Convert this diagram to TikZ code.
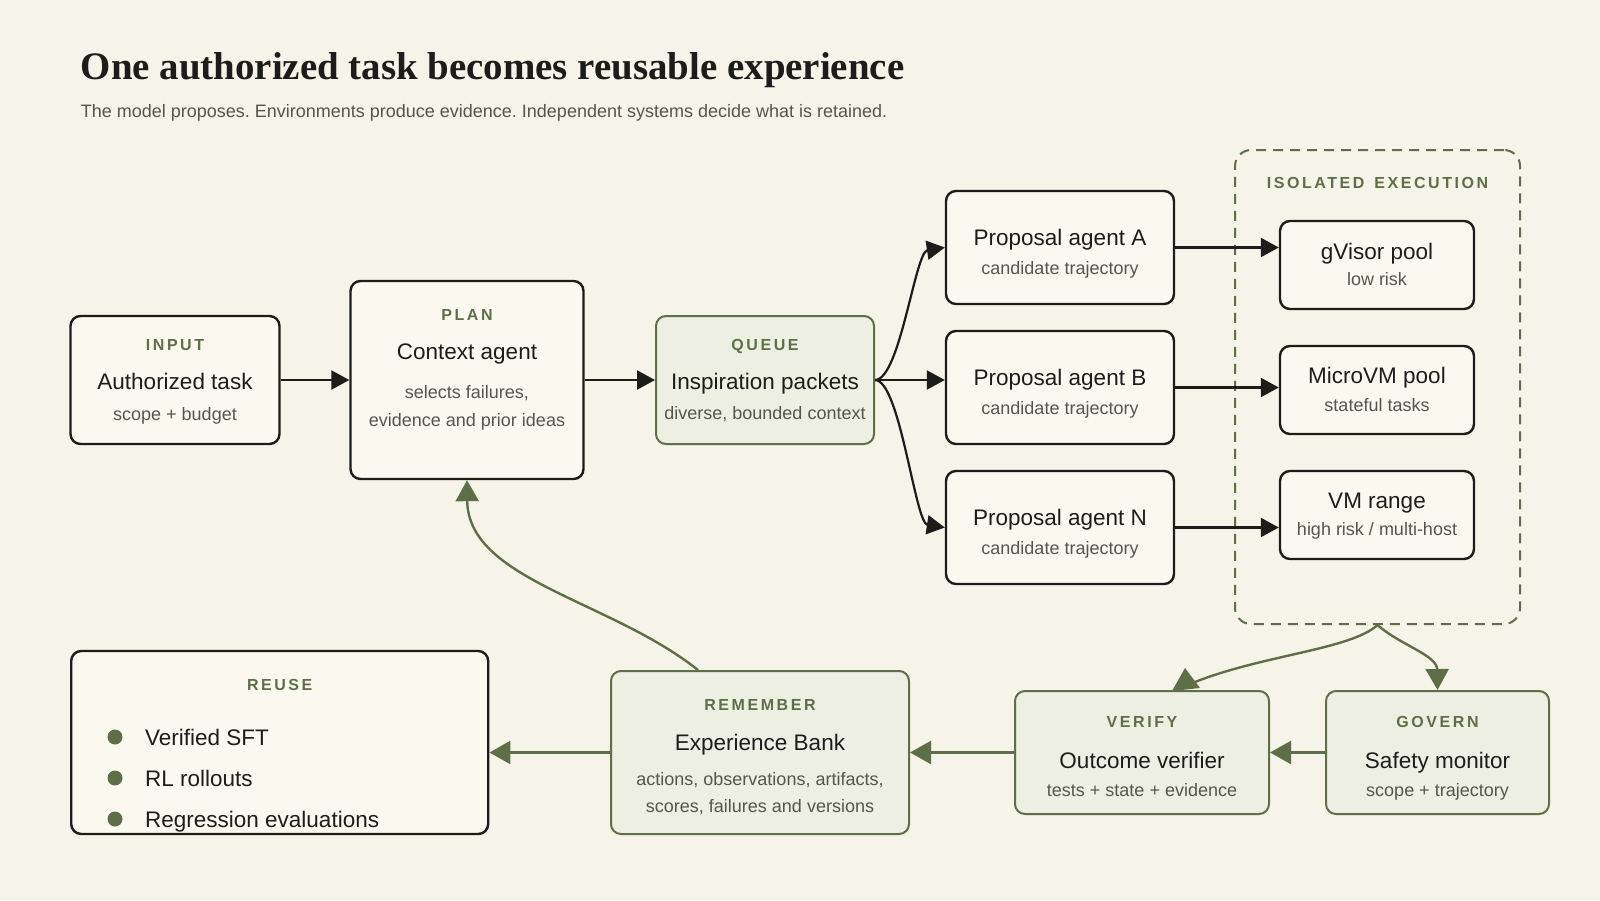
\documentclass[tikz,border=0pt]{standalone}
\usepackage{fontspec}
\setmainfont{Liberation Sans}
\newfontfamily\titlefont{Liberation Serif}
\newfontfamily\lblfont[LetterSpace=16]{Liberation Sans}
\usetikzlibrary{arrows.meta}
\definecolor{bg}{HTML}{F6F3E9}
\definecolor{boxfill}{HTML}{FBF9EF}
\definecolor{gfill}{HTML}{EDEFE3}
\definecolor{moss}{HTML}{5E6F48}
\definecolor{ink}{HTML}{1C1C1A}
\definecolor{subg}{HTML}{55554E}
\tikzset{
  box/.style={draw=ink, line width=2.4pt, fill=boxfill, rounded corners=10pt, inner sep=0pt},
  gbox/.style={draw=moss, line width=2pt, fill=gfill, rounded corners=10pt, inner sep=0pt},
  lbl/.style={anchor=base, inner sep=0pt, text=moss, font=\lblfont\bfseries\fontsize{16}{18}\selectfont},
  ttl/.style={anchor=base, inner sep=0pt, text=ink, font=\fontsize{22.5}{27}\selectfont},
  sub/.style={anchor=base, inner sep=0pt, text=subg, font=\fontsize{18}{21}\selectfont},
  dot/.style={circle, fill=moss, inner sep=0pt, minimum size=15pt},
  arr/.style={draw=ink, line width=2.2pt, -{Triangle[length=18pt,width=19pt]}},
  garr/.style={draw=moss, line width=2.4pt, -{Triangle[length=21pt,width=23pt]}},
  gline/.style={draw=moss, line width=2.4pt}
}
\begin{document}
\frenchspacing
\begin{tikzpicture}[x=1pt,y=-1pt]
\useasboundingbox[fill=bg] (0,0) rectangle (1600,900);

% heading
\node[anchor=base west, inner sep=0pt, text=ink, font=\titlefont\bfseries\fontsize{38.9}{44}\selectfont] (title) at (80.6,79.5) {One authorized task becomes reusable experience};
\node[anchor=base west, inner sep=0pt, text=subg, font=\fontsize{18}{21}\selectfont] (subtitle) at (80.6,117.5) {The model proposes. Environments produce evidence. Independent systems decide what is retained.};

% isolated execution container
\node[draw=moss, line width=2pt, dashed, dash pattern=on 10pt off 7pt, rounded corners=16pt, minimum width=285pt, minimum height=474pt, inner sep=0pt] (iso) at (1377.5,387) {};
\node[lbl] (iso-l) at (1377.5,188) {ISOLATED\hspace{3pt} EXECUTION};

% INPUT
\node[box, minimum width=209pt, minimum height=128pt] (input) at (175,380) {};
\node[lbl] (input-l) at (175,350) {INPUT};
\node[ttl] (input-t) at (175,389.5) {Authorized task};
\node[sub] (input-s) at (175,420) {scope + budget};

% PLAN
\node[box, minimum width=233pt, minimum height=198pt] (plan) at (467,380) {};
\node[lbl] (plan-l) at (467,320) {PLAN};
\node[ttl] (plan-t) at (467,359.5) {Context agent};
\node[sub] (plan-s1) at (467,398.5) {selects failures,};
\node[sub] (plan-s2) at (467,426) {evidence and prior ideas};

% QUEUE
\node[gbox, minimum width=218pt, minimum height=128pt] (queue) at (765,380) {};
\node[lbl] (queue-l) at (765,350) {QUEUE};
\node[ttl] (queue-t) at (765,389.5) {Inspiration packets};
\node[sub] (queue-s) at (765,419) {diverse, bounded context};

% proposal agents
\node[box, minimum width=228pt, minimum height=113pt] (pa) at (1060,247.5) {};
\node[ttl] (pa-t) at (1060,245) {Proposal agent A};
\node[sub] (pa-s) at (1060,274) {candidate trajectory};
\node[box, minimum width=228pt, minimum height=113pt] (pb) at (1060,387.5) {};
\node[ttl] (pb-t) at (1060,385) {Proposal agent B};
\node[sub] (pb-s) at (1060,414) {candidate trajectory};
\node[box, minimum width=228pt, minimum height=113pt] (pn) at (1060,527.5) {};
\node[ttl] (pn-t) at (1060,525) {Proposal agent N};
\node[sub] (pn-s) at (1060,554) {candidate trajectory};

% pools
\node[box, minimum width=194pt, minimum height=88pt] (gvisor) at (1377,265) {};
\node[ttl] (gvisor-t) at (1377,259) {gVisor pool};
\node[sub] (gvisor-s) at (1377,285) {low risk};
\node[box, minimum width=194pt, minimum height=88pt] (micro) at (1377,390) {};
\node[ttl] (micro-t) at (1377,383) {MicroVM pool};
\node[sub] (micro-s) at (1377,411) {stateful tasks};
\node[box, minimum width=194pt, minimum height=88pt] (vm) at (1377,515) {};
\node[ttl] (vm-t) at (1377,508) {VM range};
\node[sub] (vm-s) at (1377,535) {high risk / multi-host};

% REUSE
\node[box, minimum width=417pt, minimum height=183pt] (reuse) at (279.7,742.5) {};
\node[lbl] (reuse-l) at (279.7,690) {REUSE};
\node[dot] (d1) at (115,737) {};
\node[dot] (d2) at (115,778) {};
\node[dot] (d3) at (115,819) {};
\node[ttl, anchor=base west] (i1) at (145,745) {Verified SFT};
\node[ttl, anchor=base west] (i2) at (145,786) {RL rollouts};
\node[ttl, anchor=base west] (i3) at (145,827) {Regression evaluations};

% REMEMBER
\node[gbox, minimum width=298pt, minimum height=163pt] (remember) at (760,752.5) {};
\node[lbl] (remember-l) at (760,710) {REMEMBER};
\node[ttl] (remember-t) at (760,750.5) {Experience Bank};
\node[sub] (remember-s1) at (760,785) {actions, observations, artifacts,};
\node[sub] (remember-s2) at (760,812.5) {scores, failures and versions};

% VERIFY
\node[gbox, minimum width=254pt, minimum height=123pt] (verify) at (1142,752.5) {};
\node[lbl] (verify-l) at (1142,727.5) {VERIFY};
\node[ttl] (verify-t) at (1142,768) {Outcome verifier};
\node[sub] (verify-s) at (1142,796.5) {tests + state + evidence};

% GOVERN
\node[gbox, minimum width=223pt, minimum height=123pt] (govern) at (1437.5,752.5) {};
\node[lbl] (govern-l) at (1437.5,727.5) {GOVERN};
\node[ttl] (govern-t) at (1437.5,768) {Safety monitor};
\node[sub] (govern-s) at (1437.5,796.5) {scope + trajectory};

% connector ends
\coordinate (rtop) at (698,670);
\coordinate (vin) at (1190,684);

% black connectors
\draw[arr] (input.east) -- (plan.west);
\draw[arr] (plan.east) -- (queue.west);
\draw[arr] (queue.east) .. controls (900,380) and (915,252) .. (pa.west);
\draw[arr] (queue.east) -- (queue.east -| pb.west);
\draw[arr] (queue.east) .. controls (900,380) and (915,523) .. (pn.west);
\draw[arr] (pa.east) -- (pa.east -| gvisor.west);
\draw[arr] (pb.east) -- (pb.east -| micro.west);
\draw[arr] (pn.east) -- (pn.east -| vm.west);

% green connectors
\draw[gline] (iso.south) .. controls (1350,650) and (1260,655) .. (vin);
\fill[moss] (1185,668) -- (1172,691) -- (1200,688) -- cycle;
\draw[garr] (iso.south) .. controls (1400,645) and (1437,655) .. (govern.north);
\draw[garr] (govern.west) -- (verify.east);
\draw[garr] (verify.west) -- (remember.east);
\draw[garr] (remember.west) -- (remember.west -| reuse.east);
\draw[garr] (rtop) .. controls (610,600) and (468,580) .. (plan.south);
\end{tikzpicture}
\end{document}
